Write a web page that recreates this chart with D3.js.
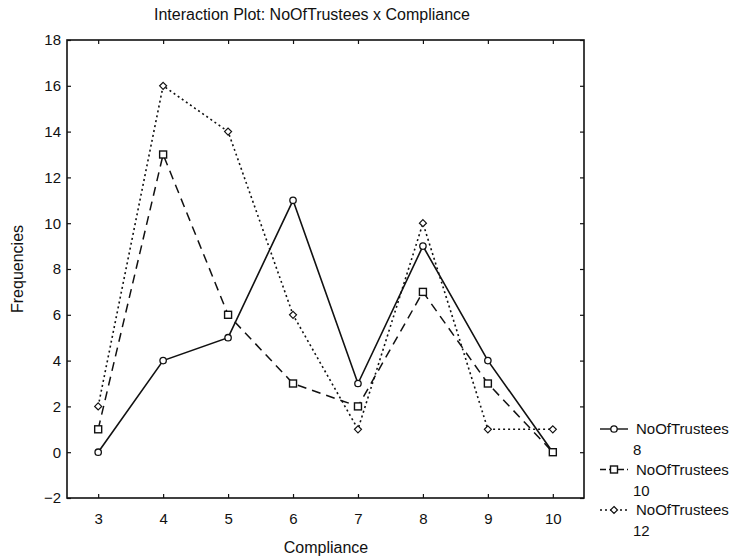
<!DOCTYPE html>
<html>
<head>
<meta charset="utf-8">
<script src="https://cdn.jsdelivr.net/npm/d3@7"></script>
<style>
  body { margin: 0; background: #fff; }
  text { font-family: "Liberation Sans", Arial, sans-serif; fill: #111; }
</style>
</head>
<body>
<script>
const categories = [3, 4, 5, 6, 7, 8, 9, 10];
const trustees8  = [0, 4, 5, 11, 3, 9, 4, 0];
const trustees10 = [1, 13, 6, 3, 2, 7, 3, 0];
const trustees12 = [2, 16, 14, 6, 1, 10, 1, 1];
const seriesNames = ["8", "10", "12"];
const yTicks = [-2, 0, 2, 4, 6, 8, 10, 12, 14, 16, 18];

const width = 735, height = 560;
const margin = {left: 67, right: 151, top: 40, bottom: 62};

const svg = d3.select("body").append("svg")
    .attr("width", width)
    .attr("height", height);

const x = d3.scaleLinear()
    .domain([2.52, 10.48])
    .range([margin.left, width - margin.right]);
const y = d3.scaleLinear()
    .domain([-2, 18])
    .range([height - margin.bottom, margin.top]);

// frame
svg.append("rect")
    .attr("x", x.range()[0]).attr("y", y.range()[1])
    .attr("width", x.range()[1] - x.range()[0])
    .attr("height", y.range()[0] - y.range()[1])
    .attr("fill", "none").attr("stroke", "#111").attr("stroke-width", 1.6);

// axes, ticks pointing inward
const xAxis = svg.append("g")
    .attr("transform", "translate(0," + y(-2) + ")")
    .call(d3.axisBottom(x).tickValues(categories).tickSizeInner(-4).tickSizeOuter(0).tickPadding(15));
const xTop = svg.append("g")
    .attr("transform", "translate(0," + y(18) + ")")
    .call(d3.axisTop(x).tickValues(categories).tickSizeInner(-4).tickSizeOuter(0).tickFormat(""));
const yAxis = svg.append("g")
    .attr("transform", "translate(" + x(2.52) + ",0)")
    .call(d3.axisLeft(y).tickValues(yTicks).tickSizeInner(-4).tickSizeOuter(0).tickPadding(6));
const yRight = svg.append("g")
    .attr("transform", "translate(" + x(10.48) + ",0)")
    .call(d3.axisRight(y).tickValues(yTicks).tickSizeInner(-4).tickSizeOuter(0).tickFormat(""));

[xAxis, xTop, yAxis, yRight].forEach(function(g) {
    g.select(".domain").remove();
    g.selectAll(".tick line").attr("stroke", "#111").attr("stroke-width", 1.2);
    g.selectAll("text").style("font-size", "15px").attr("fill", "#111");
});

// lines
const line = d3.line()
    .x(function(d) { return x(d.c); })
    .y(function(d) { return y(d.v); });

const series = [
    {name: seriesNames[0], values: trustees8,  dash: null,  width: 1.6, marker: "circle"},
    {name: seriesNames[1], values: trustees10, dash: "9,6", width: 1.5, marker: "square"},
    {name: seriesNames[2], values: trustees12, dash: "2,3", width: 1.6, marker: "diamond"}
];

function drawMarker(g, type, cx, cy) {
    if (type === "circle") {
        g.append("circle").attr("cx", cx).attr("cy", cy).attr("r", 3.2)
            .attr("fill", "#fff").attr("stroke", "#111").attr("stroke-width", 1.3);
    } else if (type === "square") {
        g.append("rect").attr("x", cx - 3.5).attr("y", cy - 3.5).attr("width", 7).attr("height", 7)
            .attr("fill", "#fff").attr("stroke", "#111").attr("stroke-width", 1.4);
    } else {
        g.append("path")
            .attr("d", "M" + cx + "," + (cy - 3.5) + "L" + (cx + 3.5) + "," + cy + "L" + cx + "," + (cy + 3.5) + "L" + (cx - 3.5) + "," + cy + "Z")
            .attr("fill", "#fff").attr("stroke", "#111").attr("stroke-width", 1.2);
    }
}

series.forEach(function(s) {
    const pts = categories.map(function(c, i) { return {c: c, v: s.values[i]}; });
    svg.append("path")
        .attr("d", line(pts))
        .attr("fill", "none")
        .attr("stroke", "#111")
        .attr("stroke-width", s.width)
        .attr("stroke-dasharray", s.dash);
    const mg = svg.append("g");
    pts.forEach(function(p) { drawMarker(mg, s.marker, x(p.c), y(p.v)); });
});

// title and axis labels
svg.append("text")
    .attr("x", 312).attr("y", 20)
    .attr("text-anchor", "middle")
    .style("font-size", "16px")
    .text("Interaction Plot: NoOfTrustees x Compliance");

svg.append("text")
    .attr("x", 326).attr("y", 553)
    .attr("text-anchor", "middle")
    .style("font-size", "16px")
    .text("Compliance");

svg.append("text")
    .attr("transform", "translate(23,269) rotate(-90)")
    .attr("text-anchor", "middle")
    .style("font-size", "16px")
    .text("Frequencies");

// legend
const legend = svg.append("g");
series.forEach(function(s, i) {
    const ly = 429 + i * 40.5;
    legend.append("line")
        .attr("x1", 600).attr("x2", 628)
        .attr("y1", ly).attr("y2", ly)
        .attr("stroke", "#111").attr("stroke-width", 1.4)
        .attr("stroke-dasharray", s.dash ? (i === 1 ? "6,3" : "2,3") : null);
    drawMarker(legend, s.marker, 614, ly);
    legend.append("text")
        .attr("x", 636).attr("y", ly + 5)
        .style("font-size", "15px")
        .text("NoOfTrustees");
    legend.append("text")
        .attr("x", 633).attr("y", ly + 26)
        .style("font-size", "15px")
        .text(s.name);
});
</script>
</body>
</html>
